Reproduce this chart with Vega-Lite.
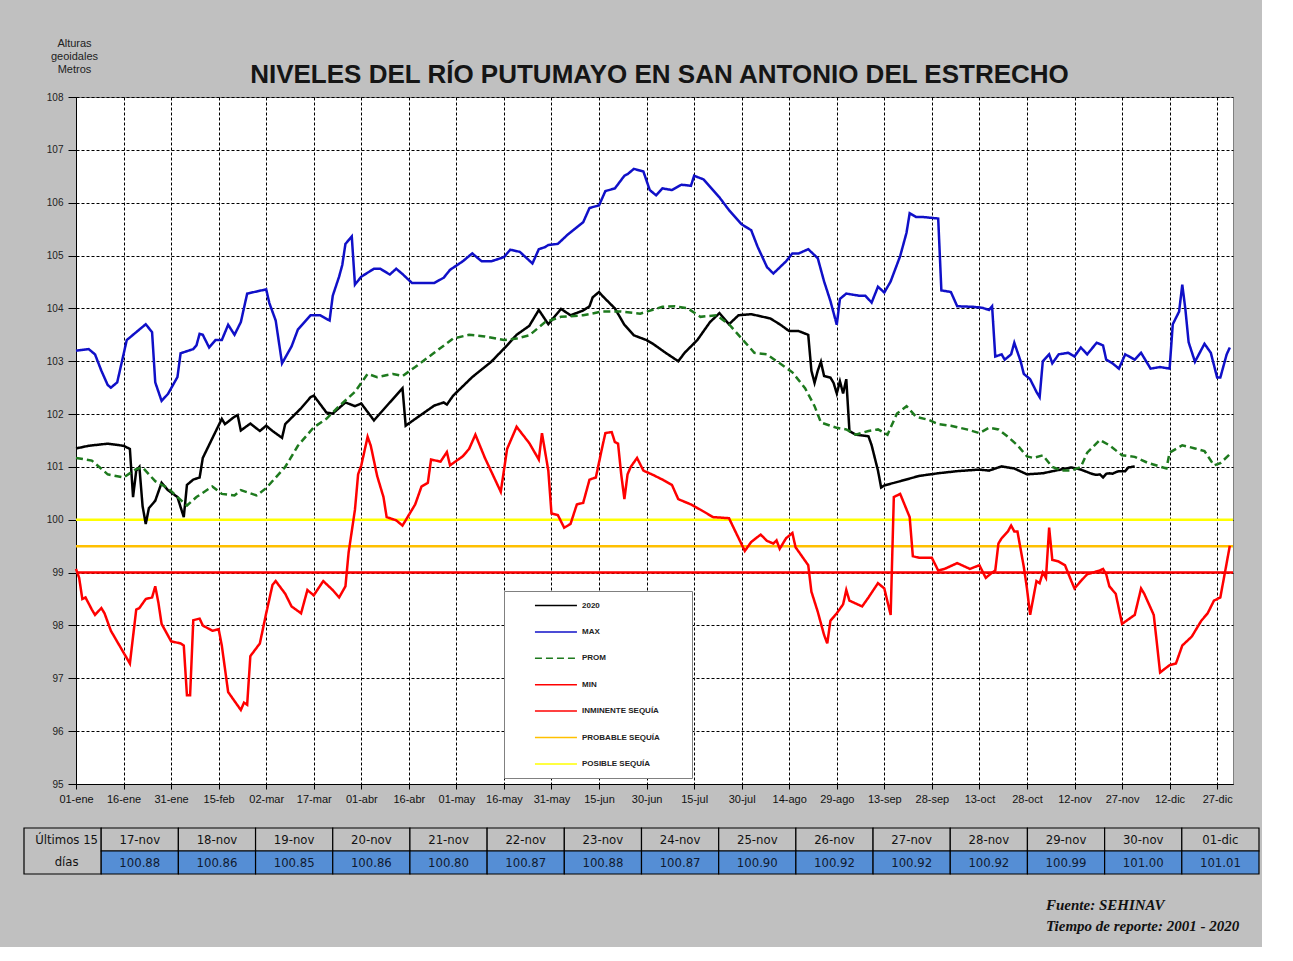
{
  "$schema": "https://vega.github.io/schema/vega-lite/v6.json",
  "background": "#C0C0C0",
  "padding": {"left": 23, "top": 36, "right": 2, "bottom": 13},
  "spacing": 22,
  "config": {"font": "Liberation Sans"},
  "datasets": {
    "series": [
      {"serie":"2020","dia":0,"nivel":101.35},{"serie":"2020","dia":4,"nivel":101.40},{"serie":"2020","dia":10,"nivel":101.44},{"serie":"2020","dia":15,"nivel":101.40},{"serie":"2020","dia":17,"nivel":101.34},{"serie":"2020","dia":18,"nivel":100.43},{"serie":"2020","dia":19,"nivel":100.93},{"serie":"2020","dia":20,"nivel":101.00},{"serie":"2020","dia":21,"nivel":100.26},{"serie":"2020","dia":22,"nivel":99.92},{"serie":"2020","dia":23,"nivel":100.22},{"serie":"2020","dia":25,"nivel":100.36},{"serie":"2020","dia":27,"nivel":100.70},{"serie":"2020","dia":29,"nivel":100.56},{"serie":"2020","dia":32,"nivel":100.43},{"serie":"2020","dia":34,"nivel":100.05},{"serie":"2020","dia":35,"nivel":100.66},{"serie":"2020","dia":37,"nivel":100.76},{"serie":"2020","dia":39,"nivel":100.80},{"serie":"2020","dia":40,"nivel":101.17},{"serie":"2020","dia":43,"nivel":101.54},{"serie":"2020","dia":46,"nivel":101.91},{"serie":"2020","dia":47,"nivel":101.81},{"serie":"2020","dia":50,"nivel":101.95},{"serie":"2020","dia":51,"nivel":101.98},{"serie":"2020","dia":52,"nivel":101.69},{"serie":"2020","dia":55,"nivel":101.82},{"serie":"2020","dia":58,"nivel":101.68},{"serie":"2020","dia":60,"nivel":101.78},{"serie":"2020","dia":62,"nivel":101.68},{"serie":"2020","dia":65,"nivel":101.55},{"serie":"2020","dia":66,"nivel":101.81},{"serie":"2020","dia":71,"nivel":102.11},{"serie":"2020","dia":74,"nivel":102.32},{"serie":"2020","dia":75,"nivel":102.35},{"serie":"2020","dia":79,"nivel":102.03},{"serie":"2020","dia":81,"nivel":102.01},{"serie":"2020","dia":85,"nivel":102.22},{"serie":"2020","dia":88,"nivel":102.15},{"serie":"2020","dia":90,"nivel":102.20},{"serie":"2020","dia":94,"nivel":101.88},{"serie":"2020","dia":99,"nivel":102.22},{"serie":"2020","dia":103,"nivel":102.49},{"serie":"2020","dia":104,"nivel":101.78},{"serie":"2020","dia":108,"nivel":101.95},{"serie":"2020","dia":113,"nivel":102.16},{"serie":"2020","dia":116,"nivel":102.22},{"serie":"2020","dia":117,"nivel":102.18},{"serie":"2020","dia":119,"nivel":102.35},{"serie":"2020","dia":125,"nivel":102.70},{"serie":"2020","dia":131,"nivel":102.99},{"serie":"2020","dia":136,"nivel":103.30},{"serie":"2020","dia":139,"nivel":103.50},{"serie":"2020","dia":143,"nivel":103.67},{"serie":"2020","dia":146,"nivel":103.97},{"serie":"2020","dia":149,"nivel":103.70},{"serie":"2020","dia":153,"nivel":103.99},{"serie":"2020","dia":156,"nivel":103.87},{"serie":"2020","dia":160,"nivel":103.96},{"serie":"2020","dia":162,"nivel":104.04},{"serie":"2020","dia":163,"nivel":104.21},{"serie":"2020","dia":165,"nivel":104.31},{"serie":"2020","dia":166,"nivel":104.24},{"serie":"2020","dia":170,"nivel":104.00},{"serie":"2020","dia":173,"nivel":103.69},{"serie":"2020","dia":176,"nivel":103.49},{"serie":"2020","dia":180,"nivel":103.40},{"serie":"2020","dia":182,"nivel":103.33},{"serie":"2020","dia":186,"nivel":103.16},{"serie":"2020","dia":190,"nivel":103.00},{"serie":"2020","dia":192,"nivel":103.16},{"serie":"2020","dia":196,"nivel":103.40},{"serie":"2020","dia":200,"nivel":103.74},{"serie":"2020","dia":203,"nivel":103.91},{"serie":"2020","dia":206,"nivel":103.70},{"serie":"2020","dia":209,"nivel":103.87},{"serie":"2020","dia":213,"nivel":103.89},{"serie":"2020","dia":216,"nivel":103.85},{"serie":"2020","dia":219,"nivel":103.81},{"serie":"2020","dia":222,"nivel":103.70},{"serie":"2020","dia":225,"nivel":103.57},{"serie":"2020","dia":228,"nivel":103.57},{"serie":"2020","dia":231,"nivel":103.50},{"serie":"2020","dia":232,"nivel":102.82},{"serie":"2020","dia":233,"nivel":102.59},{"serie":"2020","dia":234,"nivel":102.82},{"serie":"2020","dia":235,"nivel":102.99},{"serie":"2020","dia":236,"nivel":102.72},{"serie":"2020","dia":238,"nivel":102.69},{"serie":"2020","dia":239,"nivel":102.59},{"serie":"2020","dia":240,"nivel":102.39},{"serie":"2020","dia":241,"nivel":102.62},{"serie":"2020","dia":242,"nivel":102.39},{"serie":"2020","dia":243,"nivel":102.66},{"serie":"2020","dia":244,"nivel":101.68},{"serie":"2020","dia":246,"nivel":101.61},{"serie":"2020","dia":250,"nivel":101.58},{"serie":"2020","dia":251,"nivel":101.41},{"serie":"2020","dia":253,"nivel":100.93},{"serie":"2020","dia":254,"nivel":100.61},{"serie":"2020","dia":255,"nivel":100.65},{"serie":"2020","dia":260,"nivel":100.73},{"serie":"2020","dia":266,"nivel":100.83},{"serie":"2020","dia":272,"nivel":100.88},{"serie":"2020","dia":278,"nivel":100.92},{"serie":"2020","dia":285,"nivel":100.95},{"serie":"2020","dia":288,"nivel":100.93},{"serie":"2020","dia":292,"nivel":101.01},{"serie":"2020","dia":296,"nivel":100.97},{"serie":"2020","dia":300,"nivel":100.86},{"serie":"2020","dia":305,"nivel":100.88},{"serie":"2020","dia":309,"nivel":100.93},{"serie":"2020","dia":314,"nivel":100.99},{"serie":"2020","dia":317,"nivel":100.95},{"serie":"2020","dia":320,"nivel":100.88},{"serie":"2020","dia":321,"nivel":100.86},{"serie":"2020","dia":322,"nivel":100.85},{"serie":"2020","dia":323,"nivel":100.86},{"serie":"2020","dia":324,"nivel":100.80},{"serie":"2020","dia":325,"nivel":100.87},{"serie":"2020","dia":326,"nivel":100.88},{"serie":"2020","dia":327,"nivel":100.87},{"serie":"2020","dia":328,"nivel":100.90},{"serie":"2020","dia":329,"nivel":100.92},{"serie":"2020","dia":330,"nivel":100.92},{"serie":"2020","dia":331,"nivel":100.92},{"serie":"2020","dia":332,"nivel":100.99},{"serie":"2020","dia":333,"nivel":101.00},{"serie":"2020","dia":334,"nivel":101.01},

      {"serie":"MAX","dia":0,"nivel":103.20},{"serie":"MAX","dia":4,"nivel":103.23},{"serie":"MAX","dia":6,"nivel":103.13},{"serie":"MAX","dia":8,"nivel":102.82},{"serie":"MAX","dia":10,"nivel":102.55},{"serie":"MAX","dia":11,"nivel":102.50},{"serie":"MAX","dia":13,"nivel":102.60},{"serie":"MAX","dia":15,"nivel":103.13},{"serie":"MAX","dia":16,"nivel":103.40},{"serie":"MAX","dia":18,"nivel":103.50},{"serie":"MAX","dia":22,"nivel":103.70},{"serie":"MAX","dia":24,"nivel":103.55},{"serie":"MAX","dia":25,"nivel":102.60},{"serie":"MAX","dia":27,"nivel":102.25},{"serie":"MAX","dia":29,"nivel":102.38},{"serie":"MAX","dia":32,"nivel":102.70},{"serie":"MAX","dia":33,"nivel":103.15},{"serie":"MAX","dia":37,"nivel":103.23},{"serie":"MAX","dia":38,"nivel":103.30},{"serie":"MAX","dia":39,"nivel":103.52},{"serie":"MAX","dia":40,"nivel":103.50},{"serie":"MAX","dia":42,"nivel":103.26},{"serie":"MAX","dia":44,"nivel":103.40},{"serie":"MAX","dia":46,"nivel":103.40},{"serie":"MAX","dia":48,"nivel":103.69},{"serie":"MAX","dia":50,"nivel":103.50},{"serie":"MAX","dia":52,"nivel":103.74},{"serie":"MAX","dia":54,"nivel":104.28},{"serie":"MAX","dia":60,"nivel":104.36},{"serie":"MAX","dia":61,"nivel":104.10},{"serie":"MAX","dia":63,"nivel":103.77},{"serie":"MAX","dia":65,"nivel":102.96},{"serie":"MAX","dia":68,"nivel":103.28},{"serie":"MAX","dia":70,"nivel":103.60},{"serie":"MAX","dia":74,"nivel":103.87},{"serie":"MAX","dia":77,"nivel":103.87},{"serie":"MAX","dia":80,"nivel":103.77},{"serie":"MAX","dia":81,"nivel":104.24},{"serie":"MAX","dia":83,"nivel":104.60},{"serie":"MAX","dia":84,"nivel":104.82},{"serie":"MAX","dia":85,"nivel":105.22},{"serie":"MAX","dia":87,"nivel":105.36},{"serie":"MAX","dia":88,"nivel":104.45},{"serie":"MAX","dia":90,"nivel":104.60},{"serie":"MAX","dia":94,"nivel":104.75},{"serie":"MAX","dia":96,"nivel":104.75},{"serie":"MAX","dia":99,"nivel":104.64},{"serie":"MAX","dia":101,"nivel":104.75},{"serie":"MAX","dia":103,"nivel":104.65},{"serie":"MAX","dia":106,"nivel":104.48},{"serie":"MAX","dia":113,"nivel":104.48},{"serie":"MAX","dia":116,"nivel":104.58},{"serie":"MAX","dia":118,"nivel":104.73},{"serie":"MAX","dia":122,"nivel":104.89},{"serie":"MAX","dia":125,"nivel":105.04},{"serie":"MAX","dia":128,"nivel":104.89},{"serie":"MAX","dia":131,"nivel":104.89},{"serie":"MAX","dia":135,"nivel":104.97},{"serie":"MAX","dia":137,"nivel":105.11},{"serie":"MAX","dia":140,"nivel":105.07},{"serie":"MAX","dia":144,"nivel":104.85},{"serie":"MAX","dia":146,"nivel":105.12},{"serie":"MAX","dia":148,"nivel":105.16},{"serie":"MAX","dia":149,"nivel":105.20},{"serie":"MAX","dia":152,"nivel":105.22},{"serie":"MAX","dia":155,"nivel":105.39},{"serie":"MAX","dia":160,"nivel":105.63},{"serie":"MAX","dia":162,"nivel":105.90},{"serie":"MAX","dia":165,"nivel":105.95},{"serie":"MAX","dia":167,"nivel":106.22},{"serie":"MAX","dia":170,"nivel":106.27},{"serie":"MAX","dia":173,"nivel":106.51},{"serie":"MAX","dia":174,"nivel":106.54},{"serie":"MAX","dia":176,"nivel":106.64},{"serie":"MAX","dia":179,"nivel":106.59},{"serie":"MAX","dia":181,"nivel":106.24},{"serie":"MAX","dia":183,"nivel":106.14},{"serie":"MAX","dia":185,"nivel":106.27},{"serie":"MAX","dia":188,"nivel":106.24},{"serie":"MAX","dia":191,"nivel":106.34},{"serie":"MAX","dia":194,"nivel":106.32},{"serie":"MAX","dia":195,"nivel":106.51},{"serie":"MAX","dia":198,"nivel":106.44},{"serie":"MAX","dia":203,"nivel":106.10},{"serie":"MAX","dia":206,"nivel":105.86},{"serie":"MAX","dia":210,"nivel":105.59},{"serie":"MAX","dia":213,"nivel":105.48},{"serie":"MAX","dia":215,"nivel":105.17},{"serie":"MAX","dia":218,"nivel":104.78},{"serie":"MAX","dia":220,"nivel":104.66},{"serie":"MAX","dia":224,"nivel":104.89},{"serie":"MAX","dia":226,"nivel":105.04},{"serie":"MAX","dia":228,"nivel":105.04},{"serie":"MAX","dia":231,"nivel":105.12},{"serie":"MAX","dia":234,"nivel":104.95},{"serie":"MAX","dia":236,"nivel":104.51},{"serie":"MAX","dia":238,"nivel":104.14},{"serie":"MAX","dia":240,"nivel":103.69},{"serie":"MAX","dia":241,"nivel":104.18},{"serie":"MAX","dia":243,"nivel":104.28},{"serie":"MAX","dia":247,"nivel":104.24},{"serie":"MAX","dia":249,"nivel":104.24},{"serie":"MAX","dia":251,"nivel":104.11},{"serie":"MAX","dia":253,"nivel":104.41},{"serie":"MAX","dia":255,"nivel":104.30},{"serie":"MAX","dia":257,"nivel":104.51},{"serie":"MAX","dia":260,"nivel":104.99},{"serie":"MAX","dia":262,"nivel":105.43},{"serie":"MAX","dia":263,"nivel":105.80},{"serie":"MAX","dia":265,"nivel":105.73},{"serie":"MAX","dia":267,"nivel":105.73},{"serie":"MAX","dia":272,"nivel":105.70},{"serie":"MAX","dia":273,"nivel":104.34},{"serie":"MAX","dia":276,"nivel":104.31},{"serie":"MAX","dia":278,"nivel":104.04},{"serie":"MAX","dia":283,"nivel":104.03},{"serie":"MAX","dia":286,"nivel":104.01},{"serie":"MAX","dia":288,"nivel":103.97},{"serie":"MAX","dia":289,"nivel":104.04},{"serie":"MAX","dia":290,"nivel":103.09},{"serie":"MAX","dia":292,"nivel":103.13},{"serie":"MAX","dia":293,"nivel":103.03},{"serie":"MAX","dia":295,"nivel":103.13},{"serie":"MAX","dia":296,"nivel":103.35},{"serie":"MAX","dia":298,"nivel":103.00},{"serie":"MAX","dia":299,"nivel":102.76},{"serie":"MAX","dia":301,"nivel":102.66},{"serie":"MAX","dia":303,"nivel":102.42},{"serie":"MAX","dia":304,"nivel":102.32},{"serie":"MAX","dia":305,"nivel":103.00},{"serie":"MAX","dia":307,"nivel":103.13},{"serie":"MAX","dia":308,"nivel":102.96},{"serie":"MAX","dia":310,"nivel":103.13},{"serie":"MAX","dia":313,"nivel":103.16},{"serie":"MAX","dia":315,"nivel":103.09},{"serie":"MAX","dia":317,"nivel":103.26},{"serie":"MAX","dia":319,"nivel":103.13},{"serie":"MAX","dia":322,"nivel":103.35},{"serie":"MAX","dia":324,"nivel":103.30},{"serie":"MAX","dia":325,"nivel":103.03},{"serie":"MAX","dia":327,"nivel":102.96},{"serie":"MAX","dia":329,"nivel":102.86},{"serie":"MAX","dia":331,"nivel":103.13},{"serie":"MAX","dia":334,"nivel":103.03},{"serie":"MAX","dia":336,"nivel":103.16},{"serie":"MAX","dia":339,"nivel":102.86},{"serie":"MAX","dia":342,"nivel":102.89},{"serie":"MAX","dia":345,"nivel":102.86},{"serie":"MAX","dia":346,"nivel":103.70},{"serie":"MAX","dia":348,"nivel":103.94},{"serie":"MAX","dia":349,"nivel":104.45},{"serie":"MAX","dia":350,"nivel":103.97},{"serie":"MAX","dia":351,"nivel":103.36},{"serie":"MAX","dia":353,"nivel":102.99},{"serie":"MAX","dia":356,"nivel":103.33},{"serie":"MAX","dia":358,"nivel":103.16},{"serie":"MAX","dia":360,"nivel":102.69},{"serie":"MAX","dia":361,"nivel":102.69},{"serie":"MAX","dia":363,"nivel":103.13},{"serie":"MAX","dia":364,"nivel":103.26},

      {"serie":"PROM","dia":0,"nivel":101.17},{"serie":"PROM","dia":5,"nivel":101.12},{"serie":"PROM","dia":10,"nivel":100.86},{"serie":"PROM","dia":15,"nivel":100.80},{"serie":"PROM","dia":19,"nivel":100.96},{"serie":"PROM","dia":21,"nivel":100.99},{"serie":"PROM","dia":25,"nivel":100.73},{"serie":"PROM","dia":29,"nivel":100.60},{"serie":"PROM","dia":32,"nivel":100.43},{"serie":"PROM","dia":35,"nivel":100.27},{"serie":"PROM","dia":38,"nivel":100.43},{"serie":"PROM","dia":43,"nivel":100.63},{"serie":"PROM","dia":46,"nivel":100.49},{"serie":"PROM","dia":50,"nivel":100.46},{"serie":"PROM","dia":52,"nivel":100.56},{"serie":"PROM","dia":57,"nivel":100.46},{"serie":"PROM","dia":60,"nivel":100.60},{"serie":"PROM","dia":63,"nivel":100.80},{"serie":"PROM","dia":66,"nivel":101.00},{"serie":"PROM","dia":70,"nivel":101.40},{"serie":"PROM","dia":75,"nivel":101.75},{"serie":"PROM","dia":79,"nivel":101.91},{"serie":"PROM","dia":83,"nivel":102.15},{"serie":"PROM","dia":88,"nivel":102.42},{"serie":"PROM","dia":92,"nivel":102.76},{"serie":"PROM","dia":95,"nivel":102.70},{"serie":"PROM","dia":100,"nivel":102.76},{"serie":"PROM","dia":103,"nivel":102.72},{"serie":"PROM","dia":107,"nivel":102.89},{"serie":"PROM","dia":113,"nivel":103.16},{"serie":"PROM","dia":119,"nivel":103.43},{"serie":"PROM","dia":124,"nivel":103.50},{"serie":"PROM","dia":129,"nivel":103.47},{"serie":"PROM","dia":135,"nivel":103.40},{"serie":"PROM","dia":139,"nivel":103.43},{"serie":"PROM","dia":143,"nivel":103.49},{"serie":"PROM","dia":146,"nivel":103.64},{"serie":"PROM","dia":148,"nivel":103.74},{"serie":"PROM","dia":153,"nivel":103.84},{"serie":"PROM","dia":160,"nivel":103.87},{"serie":"PROM","dia":166,"nivel":103.94},{"serie":"PROM","dia":172,"nivel":103.94},{"serie":"PROM","dia":178,"nivel":103.90},{"serie":"PROM","dia":185,"nivel":104.03},{"serie":"PROM","dia":189,"nivel":104.04},{"serie":"PROM","dia":193,"nivel":104.00},{"serie":"PROM","dia":197,"nivel":103.84},{"serie":"PROM","dia":202,"nivel":103.87},{"serie":"PROM","dia":206,"nivel":103.70},{"serie":"PROM","dia":210,"nivel":103.43},{"serie":"PROM","dia":214,"nivel":103.16},{"serie":"PROM","dia":218,"nivel":103.13},{"serie":"PROM","dia":222,"nivel":102.96},{"serie":"PROM","dia":226,"nivel":102.79},{"serie":"PROM","dia":230,"nivel":102.49},{"serie":"PROM","dia":233,"nivel":102.15},{"serie":"PROM","dia":235,"nivel":101.84},{"serie":"PROM","dia":240,"nivel":101.74},{"serie":"PROM","dia":243,"nivel":101.71},{"serie":"PROM","dia":246,"nivel":101.61},{"serie":"PROM","dia":250,"nivel":101.68},{"serie":"PROM","dia":253,"nivel":101.71},{"serie":"PROM","dia":256,"nivel":101.61},{"serie":"PROM","dia":259,"nivel":102.01},{"serie":"PROM","dia":262,"nivel":102.15},{"serie":"PROM","dia":265,"nivel":101.95},{"serie":"PROM","dia":269,"nivel":101.89},{"serie":"PROM","dia":272,"nivel":101.81},{"serie":"PROM","dia":276,"nivel":101.78},{"serie":"PROM","dia":281,"nivel":101.71},{"serie":"PROM","dia":285,"nivel":101.64},{"serie":"PROM","dia":288,"nivel":101.74},{"serie":"PROM","dia":291,"nivel":101.71},{"serie":"PROM","dia":294,"nivel":101.57},{"serie":"PROM","dia":297,"nivel":101.41},{"serie":"PROM","dia":300,"nivel":101.20},{"serie":"PROM","dia":302,"nivel":101.17},{"serie":"PROM","dia":305,"nivel":101.22},{"serie":"PROM","dia":308,"nivel":101.00},{"serie":"PROM","dia":311,"nivel":100.93},{"serie":"PROM","dia":314,"nivel":100.93},{"serie":"PROM","dia":317,"nivel":101.00},{"serie":"PROM","dia":319,"nivel":101.27},{"serie":"PROM","dia":323,"nivel":101.51},{"serie":"PROM","dia":326,"nivel":101.41},{"serie":"PROM","dia":330,"nivel":101.22},{"serie":"PROM","dia":334,"nivel":101.19},{"serie":"PROM","dia":338,"nivel":101.08},{"serie":"PROM","dia":344,"nivel":100.97},{"serie":"PROM","dia":345,"nivel":101.27},{"serie":"PROM","dia":349,"nivel":101.41},{"serie":"PROM","dia":353,"nivel":101.35},{"serie":"PROM","dia":356,"nivel":101.30},{"serie":"PROM","dia":359,"nivel":101.03},{"serie":"PROM","dia":361,"nivel":101.07},{"serie":"PROM","dia":364,"nivel":101.24},

      {"serie":"MIN","dia":0,"nivel":99.07},{"serie":"MIN","dia":1,"nivel":98.90},{"serie":"MIN","dia":2,"nivel":98.50},{"serie":"MIN","dia":3,"nivel":98.53},{"serie":"MIN","dia":5,"nivel":98.30},{"serie":"MIN","dia":6,"nivel":98.20},{"serie":"MIN","dia":8,"nivel":98.33},{"serie":"MIN","dia":9,"nivel":98.23},{"serie":"MIN","dia":11,"nivel":97.90},{"serie":"MIN","dia":14,"nivel":97.59},{"serie":"MIN","dia":17,"nivel":97.28},{"serie":"MIN","dia":19,"nivel":98.30},{"serie":"MIN","dia":20,"nivel":98.33},{"serie":"MIN","dia":22,"nivel":98.50},{"serie":"MIN","dia":24,"nivel":98.53},{"serie":"MIN","dia":25,"nivel":98.74},{"serie":"MIN","dia":26,"nivel":98.43},{"serie":"MIN","dia":27,"nivel":98.03},{"serie":"MIN","dia":30,"nivel":97.70},{"serie":"MIN","dia":33,"nivel":97.66},{"serie":"MIN","dia":34,"nivel":97.62},{"serie":"MIN","dia":35,"nivel":96.68},{"serie":"MIN","dia":36,"nivel":96.68},{"serie":"MIN","dia":37,"nivel":98.10},{"serie":"MIN","dia":39,"nivel":98.13},{"serie":"MIN","dia":40,"nivel":98.00},{"serie":"MIN","dia":43,"nivel":97.90},{"serie":"MIN","dia":45,"nivel":97.93},{"serie":"MIN","dia":46,"nivel":97.62},{"serie":"MIN","dia":48,"nivel":96.74},{"serie":"MIN","dia":50,"nivel":96.57},{"serie":"MIN","dia":52,"nivel":96.40},{"serie":"MIN","dia":53,"nivel":96.54},{"serie":"MIN","dia":54,"nivel":96.50},{"serie":"MIN","dia":55,"nivel":97.42},{"serie":"MIN","dia":58,"nivel":97.66},{"serie":"MIN","dia":60,"nivel":98.23},{"serie":"MIN","dia":62,"nivel":98.77},{"serie":"MIN","dia":63,"nivel":98.84},{"serie":"MIN","dia":66,"nivel":98.60},{"serie":"MIN","dia":68,"nivel":98.36},{"serie":"MIN","dia":71,"nivel":98.23},{"serie":"MIN","dia":73,"nivel":98.67},{"serie":"MIN","dia":75,"nivel":98.57},{"serie":"MIN","dia":78,"nivel":98.84},{"serie":"MIN","dia":81,"nivel":98.67},{"serie":"MIN","dia":83,"nivel":98.53},{"serie":"MIN","dia":85,"nivel":98.74},{"serie":"MIN","dia":86,"nivel":99.38},{"serie":"MIN","dia":88,"nivel":100.19},{"serie":"MIN","dia":89,"nivel":100.86},{"serie":"MIN","dia":90,"nivel":101.03},{"serie":"MIN","dia":92,"nivel":101.57},{"serie":"MIN","dia":93,"nivel":101.40},{"serie":"MIN","dia":95,"nivel":100.83},{"serie":"MIN","dia":97,"nivel":100.43},{"serie":"MIN","dia":98,"nivel":100.05},{"serie":"MIN","dia":101,"nivel":99.99},{"serie":"MIN","dia":103,"nivel":99.89},{"serie":"MIN","dia":105,"nivel":100.09},{"serie":"MIN","dia":107,"nivel":100.29},{"serie":"MIN","dia":109,"nivel":100.63},{"serie":"MIN","dia":111,"nivel":100.70},{"serie":"MIN","dia":112,"nivel":101.14},{"serie":"MIN","dia":115,"nivel":101.10},{"serie":"MIN","dia":117,"nivel":101.28},{"serie":"MIN","dia":118,"nivel":101.03},{"serie":"MIN","dia":122,"nivel":101.20},{"serie":"MIN","dia":124,"nivel":101.34},{"serie":"MIN","dia":126,"nivel":101.61},{"serie":"MIN","dia":129,"nivel":101.17},{"serie":"MIN","dia":134,"nivel":100.53},{"serie":"MIN","dia":136,"nivel":101.34},{"serie":"MIN","dia":139,"nivel":101.76},{"serie":"MIN","dia":143,"nivel":101.45},{"serie":"MIN","dia":146,"nivel":101.14},{"serie":"MIN","dia":147,"nivel":101.64},{"serie":"MIN","dia":149,"nivel":100.93},{"serie":"MIN","dia":150,"nivel":100.12},{"serie":"MIN","dia":152,"nivel":100.09},{"serie":"MIN","dia":154,"nivel":99.85},{"serie":"MIN","dia":156,"nivel":99.92},{"serie":"MIN","dia":158,"nivel":100.29},{"serie":"MIN","dia":160,"nivel":100.32},{"serie":"MIN","dia":162,"nivel":100.76},{"serie":"MIN","dia":164,"nivel":100.80},{"serie":"MIN","dia":166,"nivel":101.37},{"serie":"MIN","dia":167,"nivel":101.64},{"serie":"MIN","dia":169,"nivel":101.66},{"serie":"MIN","dia":170,"nivel":101.47},{"serie":"MIN","dia":171,"nivel":101.44},{"serie":"MIN","dia":172,"nivel":100.86},{"serie":"MIN","dia":173,"nivel":100.39},{"serie":"MIN","dia":174,"nivel":100.86},{"serie":"MIN","dia":175,"nivel":101.00},{"serie":"MIN","dia":177,"nivel":101.17},{"serie":"MIN","dia":179,"nivel":100.93},{"serie":"MIN","dia":182,"nivel":100.85},{"serie":"MIN","dia":185,"nivel":100.76},{"serie":"MIN","dia":188,"nivel":100.66},{"serie":"MIN","dia":190,"nivel":100.39},{"serie":"MIN","dia":194,"nivel":100.29},{"serie":"MIN","dia":197,"nivel":100.19},{"serie":"MIN","dia":201,"nivel":100.05},{"serie":"MIN","dia":206,"nivel":100.03},{"serie":"MIN","dia":208,"nivel":99.78},{"serie":"MIN","dia":211,"nivel":99.41},{"serie":"MIN","dia":213,"nivel":99.58},{"serie":"MIN","dia":216,"nivel":99.72},{"serie":"MIN","dia":218,"nivel":99.60},{"serie":"MIN","dia":220,"nivel":99.55},{"serie":"MIN","dia":221,"nivel":99.61},{"serie":"MIN","dia":222,"nivel":99.45},{"serie":"MIN","dia":224,"nivel":99.65},{"serie":"MIN","dia":226,"nivel":99.75},{"serie":"MIN","dia":227,"nivel":99.48},{"serie":"MIN","dia":229,"nivel":99.31},{"serie":"MIN","dia":231,"nivel":99.14},{"serie":"MIN","dia":232,"nivel":98.64},{"serie":"MIN","dia":234,"nivel":98.26},{"serie":"MIN","dia":236,"nivel":97.82},{"serie":"MIN","dia":237,"nivel":97.66},{"serie":"MIN","dia":238,"nivel":98.09},{"serie":"MIN","dia":240,"nivel":98.23},{"serie":"MIN","dia":242,"nivel":98.40},{"serie":"MIN","dia":243,"nivel":98.67},{"serie":"MIN","dia":244,"nivel":98.47},{"serie":"MIN","dia":248,"nivel":98.36},{"serie":"MIN","dia":250,"nivel":98.53},{"serie":"MIN","dia":253,"nivel":98.80},{"serie":"MIN","dia":255,"nivel":98.70},{"serie":"MIN","dia":257,"nivel":98.20},{"serie":"MIN","dia":258,"nivel":100.43},{"serie":"MIN","dia":260,"nivel":100.49},{"serie":"MIN","dia":263,"nivel":100.05},{"serie":"MIN","dia":264,"nivel":99.31},{"serie":"MIN","dia":266,"nivel":99.28},{"serie":"MIN","dia":270,"nivel":99.28},{"serie":"MIN","dia":272,"nivel":99.04},{"serie":"MIN","dia":274,"nivel":99.07},{"serie":"MIN","dia":278,"nivel":99.18},{"serie":"MIN","dia":282,"nivel":99.07},{"serie":"MIN","dia":285,"nivel":99.14},{"serie":"MIN","dia":287,"nivel":98.90},{"serie":"MIN","dia":289,"nivel":99.00},{"serie":"MIN","dia":290,"nivel":99.04},{"serie":"MIN","dia":291,"nivel":99.55},{"serie":"MIN","dia":292,"nivel":99.65},{"serie":"MIN","dia":294,"nivel":99.78},{"serie":"MIN","dia":295,"nivel":99.89},{"serie":"MIN","dia":296,"nivel":99.78},{"serie":"MIN","dia":297,"nivel":99.78},{"serie":"MIN","dia":299,"nivel":99.11},{"serie":"MIN","dia":300,"nivel":98.70},{"serie":"MIN","dia":301,"nivel":98.20},{"serie":"MIN","dia":303,"nivel":98.84},{"serie":"MIN","dia":304,"nivel":98.80},{"serie":"MIN","dia":305,"nivel":99.00},{"serie":"MIN","dia":306,"nivel":98.90},{"serie":"MIN","dia":307,"nivel":99.85},{"serie":"MIN","dia":308,"nivel":99.24},{"serie":"MIN","dia":310,"nivel":99.21},{"serie":"MIN","dia":312,"nivel":99.14},{"serie":"MIN","dia":314,"nivel":98.84},{"serie":"MIN","dia":315,"nivel":98.70},{"serie":"MIN","dia":317,"nivel":98.84},{"serie":"MIN","dia":319,"nivel":98.97},{"serie":"MIN","dia":323,"nivel":99.04},{"serie":"MIN","dia":324,"nivel":99.07},{"serie":"MIN","dia":325,"nivel":98.97},{"serie":"MIN","dia":326,"nivel":98.74},{"serie":"MIN","dia":328,"nivel":98.60},{"serie":"MIN","dia":330,"nivel":98.03},{"serie":"MIN","dia":334,"nivel":98.20},{"serie":"MIN","dia":336,"nivel":98.70},{"serie":"MIN","dia":337,"nivel":98.60},{"serie":"MIN","dia":340,"nivel":98.20},{"serie":"MIN","dia":342,"nivel":97.11},{"serie":"MIN","dia":345,"nivel":97.25},{"serie":"MIN","dia":347,"nivel":97.28},{"serie":"MIN","dia":349,"nivel":97.62},{"serie":"MIN","dia":352,"nivel":97.79},{"serie":"MIN","dia":355,"nivel":98.09},{"serie":"MIN","dia":357,"nivel":98.23},{"serie":"MIN","dia":359,"nivel":98.47},{"serie":"MIN","dia":361,"nivel":98.53},{"serie":"MIN","dia":363,"nivel":99.18},{"serie":"MIN","dia":364,"nivel":99.51}
    ],
    "umbrales": [
      {"serie": "INMINENTE SEQUÍA", "nivel": 99},
      {"serie": "PROBABLE SEQUÍA", "nivel": 99.5},
      {"serie": "POSIBLE SEQUÍA", "nivel": 100}
    ],
    "tabla": [
      {"dia": "17-nov", "valor": 100.88},
      {"dia": "18-nov", "valor": 100.86},
      {"dia": "19-nov", "valor": 100.85},
      {"dia": "20-nov", "valor": 100.86},
      {"dia": "21-nov", "valor": 100.80},
      {"dia": "22-nov", "valor": 100.87},
      {"dia": "23-nov", "valor": 100.88},
      {"dia": "24-nov", "valor": 100.87},
      {"dia": "25-nov", "valor": 100.90},
      {"dia": "26-nov", "valor": 100.92},
      {"dia": "27-nov", "valor": 100.92},
      {"dia": "28-nov", "valor": 100.92},
      {"dia": "29-nov", "valor": 100.99},
      {"dia": "30-nov", "valor": 101.00},
      {"dia": "01-dic", "valor": 101.01}
    ]
  },
  "vconcat": [
    {
      "width": 1157,
      "height": 687,
      "view": {"fill": "white", "stroke": "#808080", "strokeWidth": 1},
      "title": {
        "text": "NIVELES DEL RÍO PUTUMAYO EN SAN ANTONIO DEL ESTRECHO",
        "font": "Liberation Sans",
        "fontSize": 26,
        "fontWeight": "bold",
        "color": "#151515",
        "anchor": "middle",
        "frame": "group",
        "offset": -51,
        "dx": 5
      },
      "encoding": {
        "y": {
          "field": "nivel",
          "type": "quantitative",
          "scale": {"domain": [95, 108], "nice": false, "zero": false},
          "axis": {
            "values": [95, 96, 97, 98, 99, 100, 101, 102, 103, 104, 105, 106, 107, 108],
            "format": "d",
            "labelFontSize": 10,
            "labelColor": "#222222",
            "labelPadding": 5,
            "tickSize": 8,
            "tickColor": "black",
            "domainColor": "black",
            "grid": true,
            "gridColor": "black",
            "gridDash": [3, 2],
            "gridWidth": 1,
            "gridOpacity": 1,
            "title": ["Alturas", "geoidales", "Metros"],
            "titleAngle": 0,
            "titleAlign": "center",
            "titleBaseline": "top",
            "titleX": -2,
            "titleY": -60,
            "titleFontSize": 11,
            "titleFontWeight": "normal",
            "titleColor": "#222222",
            "titleLineHeight": 13
          }
        },
        "color": {
          "field": "serie",
          "type": "nominal",
          "scale": {
            "domain": ["2020", "MAX", "PROM", "MIN", "INMINENTE SEQUÍA", "PROBABLE SEQUÍA", "POSIBLE SEQUÍA"],
            "range": ["#000000", "#1010C8", "#1E7A1E", "#FF0000", "#FF0000", "#FFC000", "#FFFF00"]
          },
          "legend": {
            "orient": "none",
            "legendX": 428,
            "legendY": 494,
            "title": " ",
            "titleOrient": "right",
            "titlePadding": 22,
            "fillColor": "white",
            "strokeColor": "#808080",
            "padding": 10,
            "rowPadding": 17.4,
            "labelFontSize": 8,
            "labelFontWeight": "bold",
            "labelColor": "#222222",
            "labelOffset": 59,
            "symbolType": "M4.7,0H16.7",
            "symbolSize": 49,
            "symbolStrokeWidth": 1.5
          }
        },
        "strokeDash": {
          "field": "serie",
          "type": "nominal",
          "scale": {
            "domain": ["2020", "MAX", "PROM", "MIN", "INMINENTE SEQUÍA", "PROBABLE SEQUÍA", "POSIBLE SEQUÍA"],
            "range": [[1, 0], [1, 0], [7, 4], [1, 0], [1, 0], [1, 0], [1, 0]]
          }
        }
      },
      "layer": [
        {
          "data": {"name": "umbrales"},
          "mark": {"type": "rule", "strokeWidth": 2.5}
        },
        {
          "data": {"name": "series"},
          "mark": {"type": "line", "strokeWidth": 2.5},
          "encoding": {
            "x": {
              "field": "dia",
              "type": "quantitative",
              "scale": {"domain": [0, 365], "nice": false, "zero": false},
              "axis": {
                "values": [0, 15, 30, 45, 60, 75, 90, 105, 120, 135, 150, 165, 180, 195, 210, 225, 240, 255, 270, 285, 300, 315, 330, 345, 360],
                "labelExpr": "['01-ene','16-ene','31-ene','15-feb','02-mar','17-mar','01-abr','16-abr','01-may','16-may','31-may','15-jun','30-jun','15-jul','30-jul','14-ago','29-ago','13-sep','28-sep','13-oct','28-oct','12-nov','27-nov','12-dic','27-dic'][round(datum.value / 15)]",
                "labelFontSize": 11,
                "labelColor": "#111111",
                "labelPadding": 4,
                "labelFlush": false,
                "labelOverlap": false,
                "tickSize": 5,
                "tickColor": "black",
                "domainColor": "black",
                "grid": true,
                "gridColor": "black",
                "gridDash": [3, 2],
                "gridWidth": 1,
                "gridOpacity": 1,
                "title": null
              }
            }
          }
        }
      ]
    },
    {
      "width": 1183,
      "height": 46,
      "view": {"stroke": null},
      "title": {
        "text": ["Fuente: SEHINAV", "Tiempo de reporte: 2001 -  2020"],
        "orient": "bottom",
        "anchor": "end",
        "align": "left",
        "frame": "group",
        "dx": -213,
        "offset": 23,
        "font": "Liberation Serif",
        "fontStyle": "italic",
        "fontWeight": "bold",
        "fontSize": 15,
        "lineHeight": 21,
        "color": "#111111"
      },
      "layer": [
        {
          "data": {"values": [{"dia": "Últimos 15 días"}]},
          "mark": {"type": "rect", "fill": "#C0C0C0", "stroke": "black", "strokeWidth": 1.2},
          "encoding": {
            "x": {
              "field": "dia",
              "type": "nominal",
              "scale": {
                "domain": ["Últimos 15 días", "17-nov", "18-nov", "19-nov", "20-nov", "21-nov", "22-nov", "23-nov", "24-nov", "25-nov", "26-nov", "27-nov", "28-nov", "29-nov", "30-nov", "01-dic"],
                "range": [-52, 1183],
                "paddingInner": 0,
                "paddingOuter": 0
              },
              "axis": null
            }
          }
        },
        {
          "data": {"values": [{"dia": "Últimos 15 días"}]},
          "mark": {"type": "text", "font": "Liberation Sans Narrow, DejaVu Sans Condensed, sans-serif", "fontSize": 13, "color": "#111111", "lineHeight": 22, "align": "center", "baseline": "middle", "dx": 4, "dy": -11},
          "encoding": {
            "x": {"field": "dia", "type": "nominal"},
            "text": {"value": ["Últimos 15", "días"]}
          }
        },
        {
          "data": {"name": "tabla"},
          "mark": {"type": "rect", "fill": "#C0C0C0", "stroke": "black", "strokeWidth": 1.2},
          "encoding": {
            "x": {"field": "dia", "type": "nominal"},
            "y": {
              "datum": "fecha",
              "type": "nominal",
              "scale": {"domain": ["fecha", "valor"], "paddingInner": 0, "paddingOuter": 0},
              "axis": null
            }
          }
        },
        {
          "data": {"name": "tabla"},
          "mark": {"type": "rect", "fill": "#558ED5", "stroke": "black", "strokeWidth": 1.2},
          "encoding": {
            "x": {"field": "dia", "type": "nominal"},
            "y": {"datum": "valor", "type": "nominal"}
          }
        },
        {
          "data": {"name": "tabla"},
          "mark": {"type": "text", "font": "Liberation Sans Narrow, DejaVu Sans Condensed, sans-serif", "fontSize": 13, "color": "#111111"},
          "encoding": {
            "x": {"field": "dia", "type": "nominal"},
            "y": {"datum": "fecha", "type": "nominal"},
            "text": {"field": "dia"}
          }
        },
        {
          "data": {"name": "tabla"},
          "mark": {"type": "text", "font": "Liberation Sans Narrow, DejaVu Sans Condensed, sans-serif", "fontSize": 13, "color": "#0F1A30"},
          "encoding": {
            "x": {"field": "dia", "type": "nominal"},
            "y": {"datum": "valor", "type": "nominal"},
            "text": {"field": "valor", "format": ".2f"}
          }
        }
      ]
    }
  ]
}
